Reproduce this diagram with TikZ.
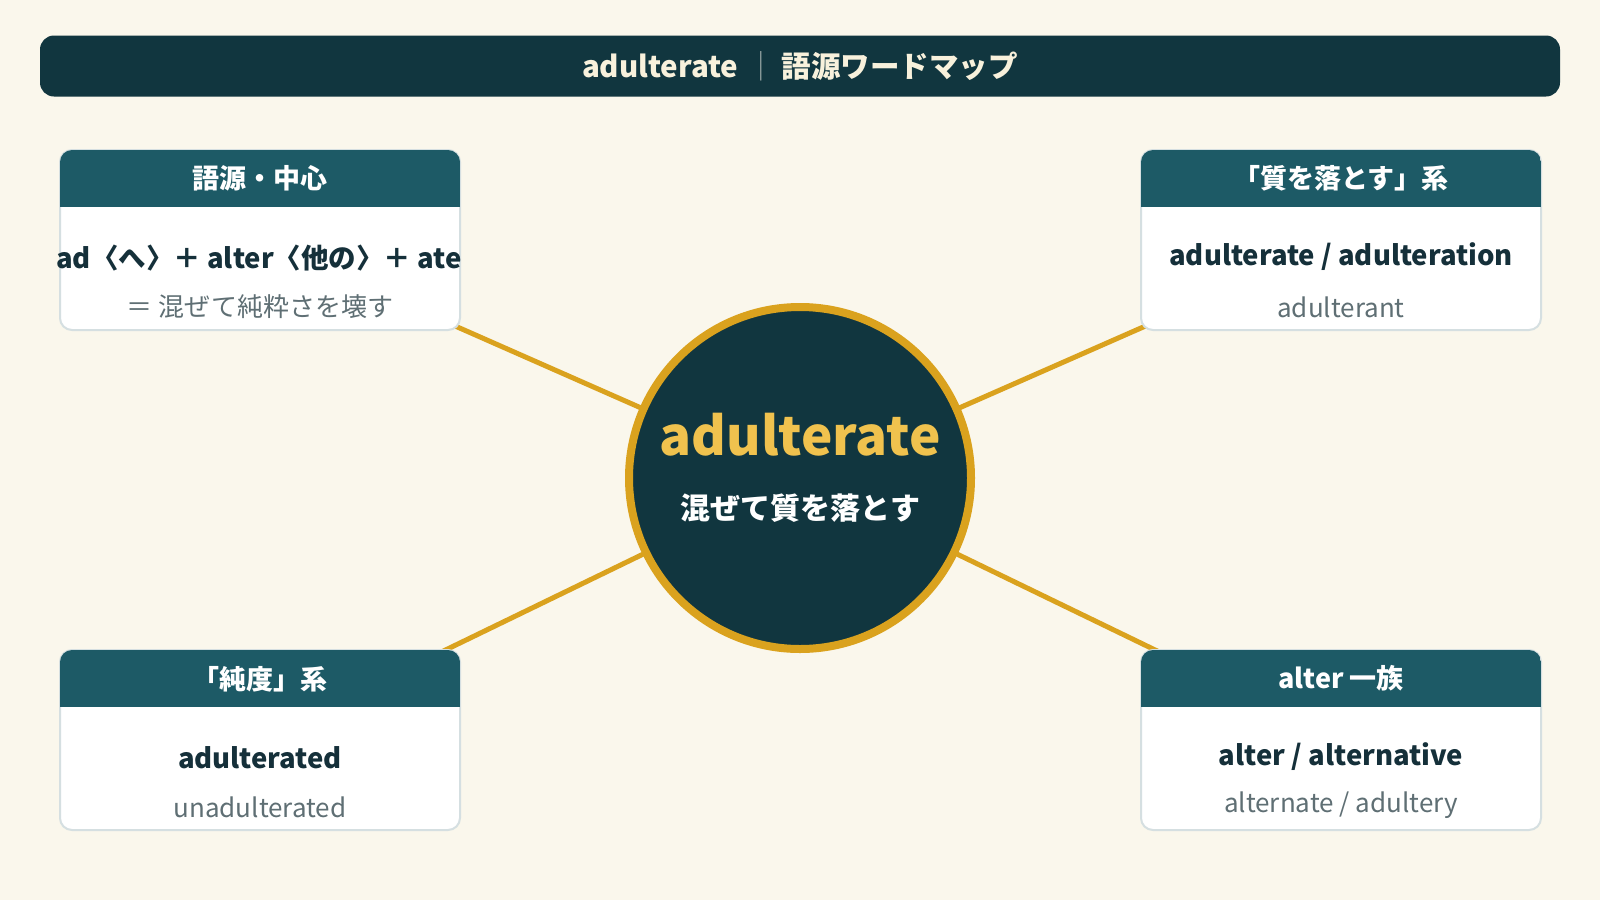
\documentclass[tikz,border=0pt]{standalone}
\usepackage{fontspec}
\setmainfont{Noto Sans CJK JP}
\usetikzlibrary{backgrounds}

\definecolor{paper}{HTML}{FAF7EC}
\definecolor{navy}{HTML}{11363F}
\definecolor{teal}{HTML}{1D5A66}
\definecolor{gold}{HTML}{DAA21E}
\definecolor{yellow}{HTML}{F0C24E}
\definecolor{cream}{HTML}{F8F1DC}
\definecolor{ink}{HTML}{15303A}
\definecolor{muted}{HTML}{5F6F74}
\definecolor{rim}{HTML}{D5DFE1}
\definecolor{bar}{HTML}{9AA7A6}

\begin{document}
\begin{tikzpicture}
[x=1pt, y=-1pt,
titlebar/.style={rectangle, fill=navy, rounded corners=14pt, minimum width=1520pt, minimum height=61pt, inner sep=0pt, text=cream, font=\bfseries\fontsize{29.5}{36}\selectfont},
hub/.style={circle, fill=navy, draw=gold, line width=8pt, minimum size=342pt, inner sep=0pt},
box/.style={rectangle, fill=white, draw=rim, line width=2pt, rounded corners=12pt, minimum width=400pt, minimum height=180pt, inner sep=0pt, outer sep=0pt},
headfill/.style={fill=teal},
headtext/.style={inner sep=0pt, text=white, font=\bfseries\fontsize{27}{32}\selectfont},
mainword/.style={inner sep=0pt, text=ink, font=\bfseries\fontsize{27.5}{34}\selectfont},
subword/.style={inner sep=0pt, text=muted, font=\fontsize{26}{32}\selectfont},
link/.style={draw=gold, line width=5pt}]

\useasboundingbox (0,0) rectangle (1600,900);
\begin{scope}[on background layer]
\fill[paper] (0,0) rectangle (1600,900);
\end{scope}

\node[titlebar] (title) at (800,66) {adulterate\hspace{8pt}{\mdseries\color{bar}｜}\hspace{6pt}語源ワードマップ};

\node[hub] (hub) at (800,478) {};
\node[inner sep=0pt, text=yellow, font=\bfseries\fontsize{53}{60}\selectfont] (hubword) at (800,435) {adulterate};
\node[inner sep=0pt, text=white, font=\bfseries\fontsize{30}{36}\selectfont] (hubmean) at (800,508) {混ぜて質を落とす};

\node[box] (b1) at (260,240) {};
\node[box] (b2) at (1341,240) {};
\node[box] (b3) at (260,740) {};
\node[box] (b4) at (1341,740) {};

\begin{scope}
\clip[rounded corners=12pt] (b1.north west) rectangle (b1.south east);
\fill[headfill] (b1.north west) rectangle ([yshift=-57pt]b1.north east);
\end{scope}
\begin{scope}
\clip[rounded corners=12pt] (b2.north west) rectangle (b2.south east);
\fill[headfill] (b2.north west) rectangle ([yshift=-57pt]b2.north east);
\end{scope}
\begin{scope}
\clip[rounded corners=12pt] (b3.north west) rectangle (b3.south east);
\fill[headfill] (b3.north west) rectangle ([yshift=-57pt]b3.north east);
\end{scope}
\begin{scope}
\clip[rounded corners=12pt] (b4.north west) rectangle (b4.south east);
\fill[headfill] (b4.north west) rectangle ([yshift=-57pt]b4.north east);
\end{scope}

\node[headtext] (b1h) at (260,178) {語源・中心};
\node[mainword] (b1m) at (259,258) {ad〈へ〉＋ alter〈他の〉＋ ate};
\node[subword] (b1s) at (260,307) {＝ 混ぜて純粋さを壊す};

\node[headtext] (b2h) at (1341,178) {「質を落とす」系};
\node[mainword] (b2m) at (1341,257) {adulterate / adulteration};
\node[subword] (b2s) at (1341,307) {adulterant};

\node[headtext] (b3h) at (260,679) {「純度」系};
\node[mainword] (b3m) at (260,758) {adulterated};
\node[subword] (b3s) at (260,807) {unadulterated};

\node[headtext] (b4h) at (1341,678) {alter 一族};
\node[mainword] (b4m) at (1341,757) {alter / alternative};
\node[subword] (b4s) at (1341,805) {alternate / adultery};

\begin{scope}[on background layer]
\draw[link] (hub.center) -- (b1.center);
\draw[link] (hub.center) -- (b2.center);
\draw[link] (hub.center) -- (b3.center);
\draw[link] (hub.center) -- (b4.center);
\end{scope}

\end{tikzpicture}
\end{document}
